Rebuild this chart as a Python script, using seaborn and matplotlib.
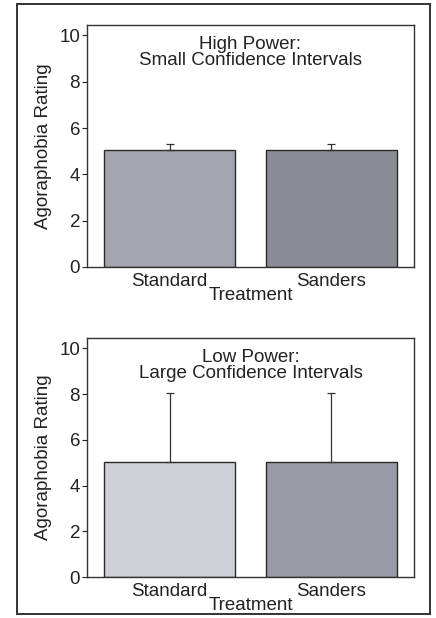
import matplotlib
matplotlib.use("Agg")
import matplotlib.pyplot as plt
import seaborn as sns
from matplotlib.patches import Rectangle

# ======= data =======
treatments = ["Standard", "Sanders"]
means_high = [5.05, 5.05]
ci_high = [0.25, 0.25]          # upper half of the interval only
means_low = [5.05, 5.05]
ci_low = [3.0, 3.0]
yticks = [0, 2, 4, 6, 8, 10]
titles = ["High Power:\nSmall Confidence Intervals",
          "Low Power:\nLarge Confidence Intervals"]
colors_high = ["#a4a4ae", "#8c8c97"]
colors_low = ["#cfcfd8", "#9a9aa6"]

# ======= style =======
sns.set_theme(style="white")
plt.rcParams['font.family'] = ['Liberation Sans', 'DejaVu Sans']
ink = "#222222"
fs = 13.5

fig = plt.figure(figsize=(4.36, 6.18), dpi=100)
ax_top = fig.add_axes([0.1995, 0.568, 0.75, 0.3916])
ax_bot = fig.add_axes([0.1995, 0.0663, 0.75, 0.3867])

panels = [(ax_top, means_high, ci_high, colors_high, titles[0]),
          (ax_bot, means_low, ci_low, colors_low, titles[1])]

for ax, means, ci, cols, title in panels:
    sns.barplot(x=treatments, y=means, hue=treatments, palette=cols,
                width=0.81, errorbar=None, legend=False,
                edgecolor="#2a2a2a", linewidth=1.0, saturation=1, ax=ax)
    # one-sided error bars, drawn above the bars
    ax.errorbar(range(len(treatments)), means,
                yerr=[[0] * len(ci), ci], fmt="none",
                ecolor="#333333", elinewidth=0.9, capsize=3, capthick=0.9)
    ax.set_xlim(-0.51, 1.51)
    ax.set_ylim(0, 10.45)
    ax.set_yticks(yticks)
    ax.set_yticklabels([str(t) for t in yticks])
    ax.tick_params(axis="y", direction="out", length=3.5, width=0.8,
                   color=ink, pad=1.5, labelsize=fs, labelcolor=ink, left=True)
    ax.tick_params(axis="x", length=0, pad=4, labelsize=fs, labelcolor=ink)
    ax.set_ylabel("Agoraphobia Rating", fontsize=fs, color=ink, labelpad=5)
    ax.set_xlabel("Treatment", fontsize=fs, color=ink, labelpad=-1.5)
    for s in ax.spines.values():
        s.set_visible(True)
        s.set_color("#333333")
        s.set_linewidth(1.0)
    ax.text(0.5, 0.955, title, transform=ax.transAxes, ha="center", va="top",
            fontsize=fs, color=ink, linespacing=0.95)

# outer frame around the whole figure
fig.patches.append(Rectangle((0.039, 0.006), 0.947, 0.988, transform=fig.transFigure,
                             fill=False, edgecolor="#333333", linewidth=1.4))

fig.savefig("out.png", dpi=100)
